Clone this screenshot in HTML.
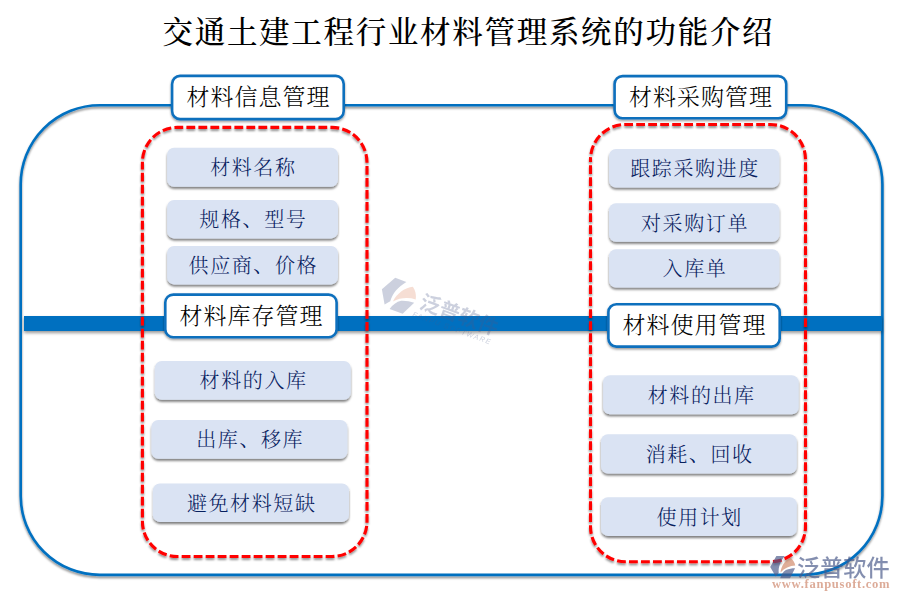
<!DOCTYPE html>
<html lang="zh-CN">
<head>
<meta charset="utf-8">
<title>交通土建工程行业材料管理系统的功能介绍</title>
<style>
html,body{margin:0;padding:0;background:#fff;}
body{width:900px;height:600px;position:relative;overflow:hidden;
  font-family:"Liberation Serif","Noto Serif CJK SC",serif;}
.abs{position:absolute;}
#title{left:162.5px;top:10.2px;text-align:left;font-size:30.5px;letter-spacing:1.7px;line-height:46px;color:#000;white-space:nowrap;font-weight:500;}
svg.layer{position:absolute;left:0;top:0;width:900px;height:600px;overflow:visible;}
.bar{left:24px;top:316px;width:858px;height:15px;background:#0070c0;box-shadow:0 2px 3px rgba(0,0,0,.4);}
.hd{color:#000;font-weight:300;font-size:23px;letter-spacing:1px;text-indent:1px;text-align:center;white-space:nowrap;height:40px;line-height:40px;}
.it{color:#06205e;font-weight:300;font-size:20px;letter-spacing:1.6px;text-indent:1.6px;text-align:center;white-space:nowrap;
  height:38px;line-height:41px;}
</style>
</head>
<body>
<div id="title" class="abs">交通土建工程行业材料管理系统的功能介绍</div>

<svg class="layer" viewBox="0 0 900 600">
  <defs>
    <filter id="sh" x="-5%" y="-5%" width="110%" height="110%">
      <feDropShadow dx="0" dy="1.9" stdDeviation="1.15" flood-color="#000" flood-opacity=".45"/>
    </filter>
    <filter id="shh" x="-5%" y="-15%" width="110%" height="140%">
      <feDropShadow dx="0" dy="1.5" stdDeviation="1.1" flood-color="#000" flood-opacity=".4"/>
    </filter>
    <filter id="sb" x="-10%" y="-20%" width="120%" height="150%">
      <feDropShadow dx="0" dy="2.1" stdDeviation="0.95" flood-color="#000" flood-opacity=".5"/>
    </filter>
  </defs>
  <rect x="20.7" y="105.2" width="861.7" height="469.65" rx="79" ry="79" fill="none" stroke="#0070c0" stroke-width="2.6" filter="url(#sh)"/>
</svg>

<div class="abs bar"></div>

<svg class="layer" viewBox="0 0 900 600">
  <g fill="none" stroke="#ff0000" stroke-width="3.1" stroke-dasharray="8.8 3.2" filter="url(#sh)">
    <path d="M142.4,162.4 a35,35 0 0 1 35,-35 h154.60 a35,35 0 0 1 35,35 v359.10 a35,35 0 0 1 -35,35 h-154.60 a35,35 0 0 1 -35,-35 z" stroke-dashoffset="8.1"/>
    <path d="M590.5,159.5 a35,35 0 0 1 35,-35 h145.00 a35,35 0 0 1 35,35 v367.25 a35,35 0 0 1 -35,35 h-145.00 a35,35 0 0 1 -35,-35 z" stroke-dashoffset="6.4"/>
  </g>
  <g fill="#dae3f3" filter="url(#sb)">
    <rect x="167.1" y="147.8" width="170.9" height="38.9" rx="7" ry="7"/>
    <rect x="167.1" y="200.0" width="170.9" height="38.4" rx="7" ry="7"/>
    <rect x="167.1" y="246.0" width="170.9" height="38.4" rx="7" ry="7"/>
    <rect x="609.0" y="149.0" width="170.4" height="38.5" rx="7" ry="7"/>
    <rect x="609.0" y="203.2" width="170.4" height="38.6" rx="7" ry="7"/>
    <rect x="609.0" y="249.2" width="170.4" height="38.4" rx="7" ry="7"/>
    <rect x="154.8" y="361.0" width="196.0" height="38.7" rx="7" ry="7"/>
    <rect x="151.4" y="420.0" width="196.0" height="38.8" rx="7" ry="7"/>
    <rect x="152.9" y="483.4" width="196.1" height="38.5" rx="7" ry="7"/>
    <rect x="603.1" y="375.2" width="195.6" height="39.1" rx="7" ry="7"/>
    <rect x="601.0" y="434.2" width="195.8" height="39.4" rx="7" ry="7"/>
    <rect x="601.0" y="497.2" width="195.8" height="38.7" rx="7" ry="7"/>
  </g>
</svg>

<svg class="layer" viewBox="0 0 900 600">
  <g fill="#fff" stroke="#0f6fbd" stroke-width="2.6" filter="url(#shh)">
    <rect x="172.10" y="75.90" width="171.60" height="43.20" rx="8" ry="8"/>
    <rect x="614.60" y="76.10" width="171.60" height="42.20" rx="8" ry="8"/>
    <rect x="165.30" y="294.60" width="171.30" height="42.60" rx="8" ry="8"/>
    <rect x="608.40" y="304.20" width="171.30" height="42.40" rx="8" ry="8"/>
  </g>
</svg>
<!-- section headers -->
<div class="abs hd" style="left:170.8px;top:78.1px;width:174.2px;">材料信息管理</div>
<div class="abs hd" style="left:613.3px;top:77.8px;width:174.2px;">材料采购管理</div>
<div class="abs hd" style="left:164.0px;top:296.5px;width:173.9px;">材料库存管理</div>
<div class="abs hd" style="left:607.1px;top:306.0px;width:173.9px;">材料使用管理</div>

<!-- items -->
<div class="abs it" style="left:167.1px;top:148.2px;width:170.9px;">材料名称</div>
<div class="abs it" style="left:167.1px;top:200.2px;width:170.9px;">规格、型号</div>
<div class="abs it" style="left:167.1px;top:246.2px;width:170.9px;">供应商、价格</div>
<div class="abs it" style="left:609.0px;top:149.2px;width:170.4px;">跟踪采购进度</div>
<div class="abs it" style="left:609.0px;top:203.5px;width:170.4px;">对采购订单</div>
<div class="abs it" style="left:609.0px;top:249.4px;width:170.4px;">入库单</div>
<div class="abs it" style="left:154.8px;top:361.4px;width:196.0px;">材料的入库</div>
<div class="abs it" style="left:151.4px;top:420.4px;width:196.0px;">出库、移库</div>
<div class="abs it" style="left:152.9px;top:483.6px;width:196.1px;">避免材料短缺</div>
<div class="abs it" style="left:603.1px;top:375.8px;width:195.6px;">材料的出库</div>
<div class="abs it" style="left:601.0px;top:434.9px;width:195.8px;">消耗、回收</div>
<div class="abs it" style="left:601.0px;top:497.5px;width:195.8px;">使用计划</div>

<!-- centre watermark -->
<svg class="layer" viewBox="0 0 900 600" style="opacity:.28">
  <g transform="translate(382,289) rotate(20) scale(1.25) translate(0,-12)">
    <path d="M0,12.3 L6.9,0 L16.4,0 C11.5,6 9,12.5 9.6,19 L6.2,23 Z" fill="#4a5a8a"/>
    <path d="M22.6,1.8 C17,4.5 12.3,11 11.6,18.4 C16,13.5 22,11 28.2,10.6 C27.6,7.3 25.6,3.8 22.6,1.8 Z" fill="#e08a68"/>
    <path d="M17.6,15.6 C21,14.2 24.5,13.6 28,13.6 L22.3,25 L11.2,25 C12.3,21 14.4,17.6 17.6,15.6 Z" fill="#4a5a8a"/>
  </g>
  <g transform="translate(381,290) rotate(20)" fill="#4a5a8a" font-family="'Liberation Sans','Noto Sans CJK SC',sans-serif">
    <text x="41" y="4" font-size="20.5" font-weight="700">泛普软件</text>
    <text x="38" y="14" font-size="7.2" letter-spacing="1.25" font-style="italic">FANPU SOFTWARE</text>
  </g>
</svg>

<!-- corner logo -->
<svg class="layer" viewBox="0 0 900 600">
  <g transform="translate(770.2,556.1) scale(0.889)" opacity=".68">
    <path d="M0,12.3 L6.9,0 L16.4,0 C11.5,6 9,12.5 9.6,19 L6.2,23 Z" fill="#4a5a8a"/>
    <path d="M22.6,1.8 C17,4.5 12.3,11 11.6,18.4 C16,13.5 22,11 28.2,10.6 C27.6,7.3 25.6,3.8 22.6,1.8 Z" fill="#d08868"/>
    <path d="M17.6,15.6 C21,14.2 24.5,13.6 28,13.6 L22.3,25 L11.2,25 C12.3,21 14.4,17.6 17.6,15.6 Z" fill="#4a5a8a"/>
  </g>
  <text x="797" y="575.5" font-size="23.2" font-weight="500" fill="#4a5a8a" opacity=".68" font-family="'Liberation Sans','Noto Sans CJK SC',sans-serif">泛普软件</text>
  <text x="772" y="588" font-size="12.6" font-weight="700" letter-spacing="0.7" fill="#c8785a" opacity=".62" font-family="'Liberation Serif','DejaVu Serif',serif">www.fanpusoft.com</text>
</svg>

</body>
</html>
